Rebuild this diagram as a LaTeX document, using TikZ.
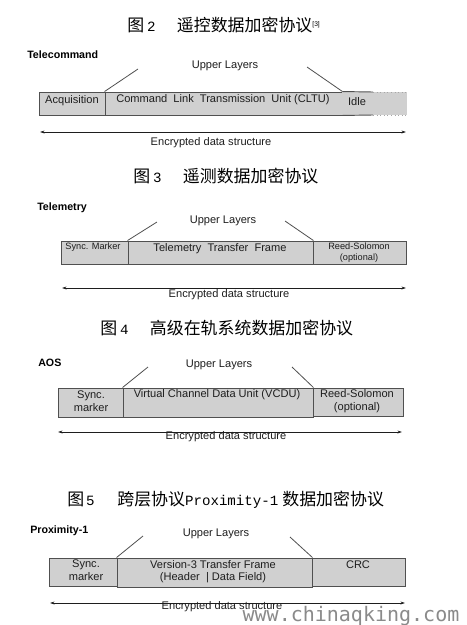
\documentclass[tikz,border=0pt]{standalone}
\usepackage{fontspec}
\setmainfont{Liberation Sans}
\newfontfamily\cjk{Noto Sans CJK SC}
\newfontfamily\monofont{Liberation Mono}
\newfontfamily\wmfont{DejaVu Sans Mono}
\usetikzlibrary{fit,arrows.meta}
\definecolor{cellfill}{HTML}{D0D0D0}
\definecolor{edge}{HTML}{505050}
\definecolor{ink}{HTML}{1E1E1E}
\definecolor{wmgray}{HTML}{8A8A8A}
\newcommand{\tdig}[1]{{\monofont\fontsize{10.6}{12}\selectfont #1}}
\begin{document}
\begin{tikzpicture}[x=0.75pt,y=-0.75pt,
  cell/.style={draw=edge, fill=cellfill, line width=0.7pt, inner sep=0pt},
  openfill/.style={fill=cellfill, inner sep=0pt},
  lbl/.style={font=\fontsize{8.3}{9.5}\selectfont, text=ink, inner sep=0pt},
  smalllbl/.style={font=\fontsize{6.9}{8.2}\selectfont, text=ink, inner sep=0pt},
  head/.style={font=\bfseries\fontsize{8}{9}\selectfont, anchor=west, inner sep=0pt, text=black},
  titletext/.style={font=\cjk\fontsize{12.7}{14}\selectfont, anchor=west, inner sep=0pt},
  slant/.style={draw=edge, line width=0.6pt},
  edgeline/.style={draw=edge, line width=0.7pt},
  fadeline/.style={draw=gray!70, line width=0.7pt, dotted},
  span/.style={draw=ink, line width=0.5pt, {Stealth[length=3.5pt,width=2.2pt]}-{Stealth[length=3.5pt,width=2.2pt]}},
]
\useasboundingbox (0,0) rectangle (467,625);
\fill[white] (0,0) rectangle (467,625);

% ---------- Figure 2 ----------
\node[titletext] (t2) at (127,25) {图\hspace{2.2pt}\tdig{2}\hspace{16pt}遥控数据加密协议\raisebox{4pt}{\fontspec{Liberation Sans}\fontsize{5}{5}\selectfont[3]}};
\node[head] (h2) at (27,55) {Telecommand};
\node[lbl] (ul2) at (225,66) {Upper Layers};
\node[cell, fit={(39,92) (105,115)}] (acq) {};
\node[cell, fit={(105,92) (342,115)}] (cltu) {};
\node[openfill, fit={(342,92.4) (407,114.6)}] (idle) {};
\coordinate (idt) at (373,92);
\coordinate (idb) at (373,115);
\coordinate (idte) at (407,92);
\coordinate (idbe) at (407,115);
\draw[edgeline] (cltu.north east) -- (idt);
\draw[edgeline] (cltu.south east) -- (idb);
\draw[fadeline] (idt) -- (idte);
\draw[fadeline] (idb) -- (idbe);
\node[lbl] (acqt) at (72,101) {Acquisition};
\node[lbl] (cltut) at (223,100) {Command\ \ Link\ \ Transmission\ \ Unit (CLTU)};
\node[lbl] (idlet) at (357,102) {Idle};
\coordinate (ul2l) at (138,69);
\coordinate (ul2r) at (307,67);
\draw[slant] (ul2l) -- (cltu.north west);
\draw[slant] (ul2r) -- (cltu.north east);
\coordinate (a2l) at (40,132);
\coordinate (a2r) at (406,132);
\draw[span] (a2l) -- (a2r);
\node[lbl] (e2) at (211,143) {Encrypted data structure};

% ---------- Figure 3 ----------
\node[titletext] (t3) at (133,176) {图\hspace{2.2pt}\tdig{3}\hspace{16pt}遥测数据加密协议};
\node[head] (h3) at (37,208) {Telemetry};
\node[lbl] (ul3) at (223,221) {Upper Layers};
\node[cell, fit={(61,241) (128,264)}] (sync3) {};
\node[cell, fit={(128,241) (313,264)}] (ttf) {};
\node[cell, fit={(313,241) (406,264)}] (rs3) {};
\node[smalllbl] (sync3t) at (93,247.5) {Sync. Marker};
\node[lbl] (ttft) at (220,249) {Telemetry\ \ Transfer\ \ Frame};
\node[smalllbl, align=center] (rs3t) at (359,253) {Reed-Solomon\\(optional)};
\coordinate (ul3l) at (157,222);
\coordinate (ul3r) at (285,221);
\draw[slant] (ul3l) -- (ttf.north west);
\draw[slant] (ul3r) -- (ttf.north east);
\coordinate (a3l) at (62,288);
\coordinate (a3r) at (406,288);
\draw[span] (a3l) -- (a3r);
\node[lbl] (e3) at (229,295) {Encrypted data structure};

% ---------- Figure 4 ----------
\node[titletext] (t4) at (100,328) {图\hspace{2.2pt}\tdig{4}\hspace{16pt}高级在轨系统数据加密协议};
\node[head] (h4) at (38,363) {AOS};
\node[lbl] (ul4) at (219,365) {Upper Layers};
\node[cell, fit={(58,388) (123,417)}] (sync4) {};
\node[cell, fit={(313,388) (403,416)}] (rs4) {};
\node[cell, fit={(123,388) (313,417)}] (vcdu) {};
\node[lbl, align=center] (sync4t) at (91,401) {Sync.\\marker};
\node[lbl] (vcdut) at (217,395) {Virtual Channel Data Unit (VCDU)};
\node[lbl, align=center] (rs4t) at (357,401) {Reed-Solomon\\(optional)};
\coordinate (ul4l) at (148,367);
\coordinate (ul4r) at (292,367);
\draw[slant] (ul4l) -- (vcdu.north west);
\draw[slant] (ul4r) -- (vcdu.north east);
\coordinate (a4l) at (58,432);
\coordinate (a4r) at (402,432);
\draw[span] (a4l) -- (a4r);
\node[lbl] (e4) at (226,437) {Encrypted data structure};

% ---------- Figure 5 ----------
\node[titletext] (t5) at (67,500) {图\hspace{1.5pt}\tdig{5}\hspace{17pt}跨层协议\tdig{Proximity-1}\hspace{3pt}数据加密协议};
\node[head] (h5) at (30,531) {Proximity-1};
\node[lbl] (ul5) at (216,534) {Upper Layers};
\node[cell, fit={(49,558) (117,586)}] (sync5) {};
\node[cell, fit={(312,558) (405,586)}] (crc) {};
\node[cell, fit={(117,558) (312,587)}] (v3) {};
\node[lbl, align=center] (sync5t) at (86,570.5) {Sync.\\marker};
\node[lbl, align=center] (v3t) at (213,571.5) {Version-3 Transfer Frame\\(Header\ \ | Data Field)};
\node[lbl] (crct) at (358,565) {CRC};
\coordinate (ul5l) at (143,536);
\coordinate (ul5r) at (290,537);
\draw[slant] (ul5l) -- (v3.north west);
\draw[slant] (ul5r) -- (v3.north east);
\coordinate (a5l) at (50,603);
\coordinate (a5r) at (405,603);
\draw[span] (a5l) -- (a5r);
\node[lbl] (e5) at (222,607) {Encrypted data structure};

% ---------- watermark ----------
\node[font=\wmfont\fontsize{15}{16}\selectfont, text=wmgray, inner sep=0pt] (wm2) at (351,616) {www.chinaqking.com};
\end{tikzpicture}
\end{document}
